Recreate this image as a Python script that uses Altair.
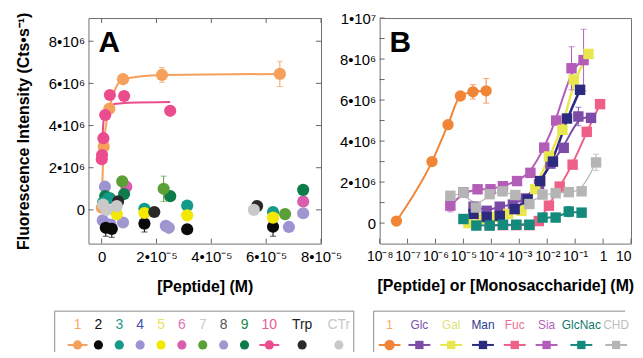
import altair as alt
import pandas as pd

FONT = "Liberation Sans, Arial, Helvetica, sans-serif"

# ---------------- Panel A data ----------------
A_XTICKS = [0, 2e-5, 4e-5, 6e-5, 8e-5]
A_YTICKS = [0, 2e6, 4e6, 6e6, 8e6]

p1_x = [4e-8, 7.5e-7, 2.8e-6, 7.8e-6, 2.2e-5, 6.5e-5]
p1_y = [0.1e6, 3.0e6, 4.8e6, 6.2e6, 6.4e6, 6.45e6]
p1_err = [0, 0.1e6, 0.2e6, 0.1e6, 0.35e6, 0.6e6]

p10_x = [5e-8, 1.5e-7, 6.5e-7, 1.3e-6, 3.0e-6, 8.2e-6, 2.5e-5]
p10_y = [2.4e6, 2.6e6, 3.4e6, 4.5e6, 5.45e6, 5.4e6, 4.7e6]
p10_fit_x = [5e-8, 2e-7, 5e-7, 1e-6, 2e-6, 4e-6, 1e-5, 2.5e-5]
p10_fit_y = [2.3e6, 3.0e6, 3.9e6, 4.5e6, 4.85e6, 5.0e6, 5.08e6, 5.12e6]

# scattered peptides (series, x, y, err)
scatter_A = {
    "6":   ([9e-6, 7.35e-5], [1.1e6, 0.4e6], [0, 0]),
    "4":   ([1.2e-6, 4e-7, 3.2e-6, 2.34e-5, 6.83e-5], [1.1e6, -0.5e6, -0.7e6, -0.76e6, -0.81e6], [0, 0, 0, 0, 0]),
    "8":   ([7.8e-6, 2.45e-5, 7.35e-5], [-0.6e6, -0.85e6, -0.16e6], [0, 0, 0]),
    "9":   ([1.3e-6, 3e-6, 8.2e-6, 2.5e-5, 7.35e-5], [0.65e6, 0.55e6, 0.75e6, 0.65e6, 0.95e6], [0, 0, 0, 0, 0]),
    "7":   ([7.5e-6, 2.26e-5, 6.69e-5], [1.35e6, 1.0e6, -0.2e6], [0, 0.6e6, 0]),
    "2":   ([1.5e-6, 3.7e-6, 1.56e-5, 3.12e-5, 6.25e-5], [-0.85e6, -0.9e6, -0.65e6, -0.92e6, -0.8e6], [0.4e6, 0.4e6, 0.4e6, 0.15e6, 0.45e6]),
    "3":   ([5e-7, 2.5e-6, 1.56e-5, 3.12e-5, 6.25e-5], [0.35e6, 0.55e6, 0.05e6, 0.2e6, -0.1e6], [0, 0, 0, 0, 0]),
    "5":   ([5.5e-6, 1.56e-5, 3.12e-5, 6.25e-5], [-0.2e6, -0.15e6, -0.26e6, -0.37e6], [0, 0, 0, 0]),
    "Trp": ([6e-6, 1.92e-5, 5.67e-5], [0.4e6, -0.1e6, 0.18e6], [0, 0, 0]),
    "CTr": ([5e-7, 1.8e-6, 5.5e-6, 5.55e-5], [0.25e6, 0.0, 0.18e6, 0.0], [0, 0, 0, 0]),
}

A_LABELS = ["1", "2", "3", "4", "5", "6", "7", "8", "9", "10", "Trp", "CTr"]
A_MARK_COL = ["#F6A15B", "#0A0A0A", "#15998A", "#9D93D3", "#F2E800", "#DB5DAE",
              "#5B9F37", "#A097CF", "#0E7C4A", "#EB4C8D", "#2A2A2A", "#C9C9C9"]
A_TEXT_COL = ["#F7A866", "#111111", "#1A9A8A", "#3E50B4", "#EEE060", "#E070B4",
              "#C8CCCC", "#555555", "#17884A", "#EA5A98", "#222222", "#C8C8C8"]
A_HASLINE = ["1", "10"]

# ---------------- Panel B data ----------------
B_XTICKS = [1e-8, 1e-7, 1e-6, 1e-5, 1e-4, 1e-3, 1e-2, 1e-1, 1, 10]
B_XLABELS = ["10⁻⁸", "10⁻⁷", "10⁻⁶", "10⁻⁵", "10⁻⁴", "10⁻³", "10⁻²", "10⁻¹", "1", "10"]
B_YTICKS = [0, 1e6, 2e6, 3e6, 4e6, 5e6, 6e6, 7e6, 8e6, 9e6, 1e7]
B_YLABELTICKS = [0, 2e6, 4e6, 6e6, 8e6, 1e7]

sugars_B = {
    "Sia":    ([3.4e-6, 1e-5, 3.2e-5, 9.3e-5, 2.6e-4, 8.3e-4, 2.5e-3, 7.8e-3, 2.1e-2, 7.4e-2, 0.2],
               [0.85e6, 1.5e6, 1.65e6, 1.65e6, 1.8e6, 2.05e6, 2.45e6, 3.68e6, 5.0e6, 7.55e6, 7.95e6],
               [0.3e6, 0, 0, 0, 0, 0, 0, 0, 0, 1.05e6, 1.5e6]),
    "Glc":    ([2.3e-5, 6.8e-5, 2e-4, 5.9e-4, 1.7e-3, 5.1e-3, 1.3e-2, 3.9e-2, 0.13, 0.37],
               [0.8e6, 0.6e6, 0.8e6, 0.9e6, 1.2e6, 1.9e6, 2.9e6, 3.67e6, 5.2e6, 5.13e6],
               [0, 0, 0, 0, 0, 0, 0, 0, 0.45e6, 0]),
    "Fuc":    ([8.7e-5, 2.6e-4, 7.8e-4, 2.3e-3, 5e-3, 1.15e-2, 2.8e-2, 8.1e-2, 0.26, 0.78],
               [-0.1e6, -0.1e6, -0.1e6, -0.1e6, 0.1e6, 0.85e6, 1.78e6, 2.85e6, 4.45e6, 5.8e6],
               [0, 0, 0, 0, 0, 0, 0, 0, 0, 0]),
    "Gal":    ([1.5e-5, 4.5e-5, 1.3e-4, 4e-4, 1.2e-3, 3.7e-3, 1.15e-2, 3.5e-2, 8.9e-2, 0.3],
               [0.0, 0.2e6, 0.3e6, 0.45e6, 0.6e6, 1.65e6, 3.25e6, 4.55e6, 7.0e6, 8.25e6],
               [0, 0, 0, 0, 0, 0, 0, 0, 0, 0]),
    "Man":    ([2.3e-5, 6.8e-5, 2e-4, 6.8e-4, 2e-3, 5.6e-3, 1.6e-2, 5.1e-2, 0.15],
               [0.45e6, 0.3e6, 0.35e6, 0.68e6, 1.15e6, 2.05e6, 3.0e6, 5.1e6, 6.5e6],
               [0, 0, 0, 0, 0, 0, 0, 0, 0]),
    "CHD":    ([3.4e-6, 1e-5, 2.8e-5, 8.7e-5, 2.5e-4, 7.2e-4, 2.3e-3, 6.8e-3, 2.0e-2, 5.9e-2, 0.17, 0.56],
               [1.33e6, 1.49e6, 0.76e6, 1.41e6, 1.55e6, 1.37e6, 0.93e6, 1.39e6, 1.46e6, 1.51e6, 1.55e6, 2.96e6],
               [0, 0, 0, 0, 0, 0, 0, 0, 0, 0, 0, 0.4e6]),
    "GlcNac": ([1e-5, 2.9e-5, 8.7e-5, 2.6e-4, 7.8e-4, 2.3e-3, 6.8e-3, 2.0e-2, 5.9e-2, 0.17],
               [0.2e6, -0.12e6, -0.12e6, -0.08e6, -0.08e6, -0.08e6, 0.27e6, 0.27e6, 0.56e6, 0.51e6],
               [0, 0, 0, 0, 0, 0, 0, 0, 0.25e6, 0]),
}

B_LABELS = ["1", "Glc", "Gal", "Man", "Fuc", "Sia", "GlcNac", "CHD"]
B_MARK_COL = ["#F08537", "#7B4BA7", "#E8E84E", "#2D2B80", "#EF6088", "#B35CB8", "#138A7B", "#B5B5B5"]
B_TEXT_COL = ["#F7A866", "#7E50AC", "#E2E27A", "#2E3C8E", "#EE6F96", "#B563B9", "#13786E", "#BDBDBD"]
B_LINE_W = {"Sia": 2, "Glc": 2, "Fuc": 2, "Gal": 2.5, "Man": 2.5, "CHD": 1.2, "GlcNac": 2}

# ---------------- helpers ----------------
colA = dict(zip(A_LABELS, A_MARK_COL))
colB = dict(zip(B_LABELS, B_MARK_COL))

WA, HA = 234, 227
WB, HB = 253, 227

xA = alt.Scale(domain=[-4.8e-6, 8e-5], nice=False, zero=False)
yA = alt.Scale(domain=[-1.6e6, 9.1e6], nice=False, zero=False)
xB = alt.Scale(type="log", domain=[1e-8, 10], nice=False)
yB = alt.Scale(domain=[-1.0e6, 1.0e7], nice=False, zero=False)

common_axis = dict(grid=False, ticks=False, domain=False, labelFont=FONT, labelColor="black",
                   titleFont=FONT, titleColor="black", titleFontWeight="bold", labelFlush=False,
                   labelOverlap=False)

axA_x = alt.Axis(values=A_XTICKS, title="[Peptide] (M)",
                 labelExpr="datum.value == 0 ? '0' : format(datum.value / 1e-5, '.0f') + '•10⁻⁵'",
                 labelFontSize=15, labelPadding=6, titleFontSize=16, titlePadding=14, **common_axis)
axA_y = alt.Axis(values=A_YTICKS, title="Fluorescence Intensity (Cts•s⁻¹)",
                 labelExpr="datum.value == 0 ? '0' : format(datum.value / 1e6, '.0f') + '•10⁶'",
                 labelFontSize=15, labelPadding=4, titleFontSize=16, titlePadding=17, **common_axis)
lab_arr = "[" + ",".join("'" + s + "'" for s in B_XLABELS) + "]"
axB_x = alt.Axis(values=B_XTICKS, title="[Peptide] or [Monosaccharide] (M)",
                 labelExpr=lab_arr + "[round(log(datum.value) / LN10) + 8]",
                 labelAlign={"condition": {"test": "datum.value > 5", "value": "right"}, "value": "center"},
                 labelFontSize=14, labelPadding=6, titleFontSize=16, titlePadding=14, **common_axis)
axB_y = alt.Axis(values=B_YLABELTICKS, title=None,
                 labelExpr="datum.value == 0 ? '0' : (datum.value >= 1e7 ? '1•10⁷' : format(datum.value / 1e6, '.0f') + '•10⁶')",
                 labelFontSize=15, labelPadding=4, **common_axis)


def X(field, scale, axis):
    return alt.X(f"{field}:Q", scale=scale, axis=axis)


def Y(field, scale, axis):
    return alt.Y(f"{field}:Q", scale=scale, axis=axis)


def tick_rules(xticks, yticks, xs, ys, ax_x, ax_y, W, H, sides):
    layers = []
    dx = pd.DataFrame({"v": xticks})
    dy = pd.DataFrame({"v": yticks})
    rc = dict(color="#666666", strokeWidth=1)
    if "left" in sides:
        layers.append(alt.Chart(dy).mark_rule(**rc).encode(y=Y("v", ys, ax_y), x=alt.value(0), x2=alt.value(5)))
    if "right" in sides:
        layers.append(alt.Chart(dy).mark_rule(**rc).encode(y=Y("v", ys, ax_y), x=alt.value(W - 5), x2=alt.value(W)))
    if "top" in sides:
        layers.append(alt.Chart(dx).mark_rule(**rc).encode(x=X("v", xs, ax_x), y=alt.value(0), y2=alt.value(5)))
    if "bottom" in sides:
        layers.append(alt.Chart(dx).mark_rule(**rc).encode(x=X("v", xs, ax_x), y=alt.value(H - 5), y2=alt.value(H)))
    return layers


def errbars(df, xs, ys, ax_x, ax_y):
    d = df[df["err"] > 0].copy()
    d["lo"] = d["y"] - d["err"]
    d["hi"] = d["y"] + d["err"]
    rule = alt.Chart(d).mark_rule(strokeWidth=1).encode(
        x=X("x", xs, ax_x), y=Y("lo", ys, ax_y), y2="hi:Q", color=alt.Color("c:N", scale=None))
    cap_hi = alt.Chart(d).mark_tick(orient="horizontal", size=6, thickness=1).encode(
        x=X("x", xs, ax_x), y=Y("hi", ys, ax_y), color=alt.Color("c:N", scale=None))
    cap_lo = alt.Chart(d).mark_tick(orient="horizontal", size=6, thickness=1).encode(
        x=X("x", xs, ax_x), y=Y("lo", ys, ax_y), color=alt.Color("c:N", scale=None))
    return [rule, cap_hi, cap_lo]


def letter(t):
    return alt.Chart(pd.DataFrame({"t": [t]})).mark_text(
        fontSize=30, fontWeight="bold", font=FONT, align="left", baseline="alphabetic", color="black"
    ).encode(text="t:N", x=alt.value(10), y=alt.value(34))


one = pd.DataFrame({"a": [0]})


def box_rule(x, x2, y, y2):
    return alt.Chart(one).mark_rule(color="#8C8C8C", strokeWidth=1).encode(
        x=alt.value(x), x2=alt.value(x2), y=alt.value(y), y2=alt.value(y2))


def legend_slots(labels, start, gap, per_char):
    # centre of each legend entry, spaced by the widths of neighbouring labels
    pos = [start]
    for a, b in zip(labels[:-1], labels[1:]):
        pos.append(pos[-1] + gap + per_char * (len(a) + len(b)))
    return pos


# ---------------- Panel A ----------------
d1 = pd.DataFrame({"x": p1_x, "y": p1_y, "err": p1_err, "c": colA["1"]})
d10 = pd.DataFrame({"x": p10_x, "y": p10_y, "err": [0] * len(p10_x), "c": colA["10"]})
d10fit = pd.DataFrame({"x": p10_fit_x, "y": p10_fit_y})
rows = []
for s, (xs_, ys_, es_) in scatter_A.items():
    for a, b, e in zip(xs_, ys_, es_):
        rows.append({"x": a, "y": b, "err": e, "c": colA[s]})
dsc = pd.DataFrame(rows)

layersA = tick_rules(A_XTICKS, A_YTICKS, xA, yA, axA_x, axA_y, WA, HA, ["left", "right", "top", "bottom"])
layersA += [
    alt.Chart(d1).mark_line(interpolate="monotone", strokeWidth=2, color=colA["1"]).encode(
        x=X("x", xA, axA_x), y=Y("y", yA, axA_y)),
    alt.Chart(d10fit).mark_line(interpolate="monotone", strokeWidth=2, color=colA["10"]).encode(
        x=X("x", xA, axA_x), y=Y("y", yA, axA_y)),
]
layersA += errbars(d1, xA, yA, axA_x, axA_y)
layersA += [
    alt.Chart(d1).mark_circle(size=150, opacity=1).encode(
        x=X("x", xA, axA_x), y=Y("y", yA, axA_y), color=alt.Color("c:N", scale=None)),
    alt.Chart(d10).mark_circle(size=150, opacity=1).encode(
        x=X("x", xA, axA_x), y=Y("y", yA, axA_y), color=alt.Color("c:N", scale=None)),
]
layersA += errbars(dsc, xA, yA, axA_x, axA_y)
layersA += [
    alt.Chart(dsc).mark_circle(size=150, opacity=1).encode(
        x=X("x", xA, axA_x), y=Y("y", yA, axA_y), color=alt.Color("c:N", scale=None)),
    letter("A"),
]
chartA = alt.layer(*layersA).properties(
    width=WA, height=HA, view=alt.ViewBackground(stroke="#707070", strokeWidth=1))

# ---------------- Panel B ----------------
dB1 = pd.DataFrame({"x": p1_x, "y": p1_y, "err": p1_err, "c": colB["1"]})
rows = []
for s, (xs_, ys_, es_) in sugars_B.items():
    for a, b, e in zip(xs_, ys_, es_):
        rows.append({"s": s, "x": a, "y": b, "err": e, "c": colB[s], "lw": B_LINE_W[s]})
dsg = pd.DataFrame(rows)

layersB = tick_rules(B_XTICKS, B_YTICKS, xB, yB, axB_x, axB_y, WB, HB, ["left", "bottom"])
layersB += [
    alt.Chart(dsg).mark_line(interpolate="basis").encode(
        x=X("x", xB, axB_x), y=Y("y", yB, axB_y), color=alt.Color("c:N", scale=None),
        detail="s:N", size=alt.Size("lw:Q", scale=None)),
    alt.Chart(dB1).mark_line(interpolate="monotone", strokeWidth=2, color=colB["1"]).encode(
        x=X("x", xB, axB_x), y=Y("y", yB, axB_y)),
]
layersB += errbars(dsg, xB, yB, axB_x, axB_y)
layersB += errbars(dB1, xB, yB, axB_x, axB_y)
layersB += [
    alt.Chart(dsg).mark_square(size=110, opacity=1).encode(
        x=X("x", xB, axB_x), y=Y("y", yB, axB_y), color=alt.Color("c:N", scale=None)),
    alt.Chart(dB1).mark_circle(size=130, opacity=1).encode(
        x=X("x", xB, axB_x), y=Y("y", yB, axB_y), color=alt.Color("c:N", scale=None)),
    letter("B"),
]
chartB = alt.layer(*layersB).properties(
    width=WB, height=HB, view=alt.ViewBackground(stroke="#707070", strokeWidth=1))

# ---------------- Legends ----------------
LEG_H = 41
LEGA_W = 267
LEGB_W = 253
legA_df = pd.DataFrame({"lab": A_LABELS, "mc": A_MARK_COL, "tc": A_TEXT_COL,
                        "line": [l in A_HASLINE for l in A_LABELS],
                        "pos": legend_slots(A_LABELS, -11, 13, 4)})
ident = alt.Scale(domain=[0, 100], range=[0, 100], zero=False, nice=False)
lxA = alt.X("pos:Q", scale=ident, axis=None)
legA = alt.layer(
    box_rule(-34, LEGA_W, 0, 0),
    box_rule(-34, -34, 0, LEG_H),
    box_rule(LEGA_W, LEGA_W, 0, LEG_H),
    alt.Chart(legA_df).mark_text(fontSize=14, font=FONT, baseline="middle").encode(
        x=lxA, y=alt.value(14), text="lab:N", color=alt.Color("tc:N", scale=None)),
    alt.Chart(legA_df).transform_filter("datum.line").mark_point(
        shape="M-1,0L1,0", size=400, filled=False, strokeWidth=2, opacity=1).encode(
        x=lxA, y=alt.value(34), color=alt.Color("mc:N", scale=None)),
    alt.Chart(legA_df).mark_circle(size=85, opacity=1).encode(
        x=lxA, y=alt.value(34), color=alt.Color("mc:N", scale=None)),
).properties(width=LEGA_W, height=LEG_H, view=alt.ViewBackground(stroke=None))

legB_df = pd.DataFrame({"lab": B_LABELS, "mc": B_MARK_COL, "tc": B_TEXT_COL,
                        "pos": legend_slots(B_LABELS, 16, 26, 1)})
lxB = alt.X("pos:Q", scale=ident, axis=None)
legB = alt.layer(
    box_rule(0, LEGB_W, 0, 0),
    box_rule(0, 0, 0, LEG_H),
    alt.Chart(legB_df).mark_text(fontSize=12, font=FONT, baseline="middle").encode(
        x=lxB, y=alt.value(14), text="lab:N", color=alt.Color("tc:N", scale=None)),
    alt.Chart(legB_df).mark_point(
        shape="M-1,0L1,0", size=484, filled=False, strokeWidth=2, opacity=1).encode(
        x=lxB, y=alt.value(34), color=alt.Color("mc:N", scale=None)),
    alt.Chart(legB_df).transform_filter("datum.lab == '1'").mark_circle(size=110, opacity=1).encode(
        x=lxB, y=alt.value(34), color=alt.Color("mc:N", scale=None)),
    alt.Chart(legB_df).transform_filter("datum.lab != '1'").mark_square(size=70, opacity=1).encode(
        x=lxB, y=alt.value(34), color=alt.Color("mc:N", scale=None)),
).properties(width=LEGB_W, height=LEG_H, view=alt.ViewBackground(stroke=None))

top = alt.hconcat(chartA, chartB, spacing=59, bounds="flush")
bottom = alt.hconcat(legA, legB, spacing=18)
chart = alt.vconcat(top, bottom, spacing=15).properties(
    padding={"left": 7, "top": 1, "right": 0, "bottom": 0}
).configure_view(stroke=None).configure(background="white")

chart.save("out.html", embed_options={"renderer": "svg", "actions": False})
